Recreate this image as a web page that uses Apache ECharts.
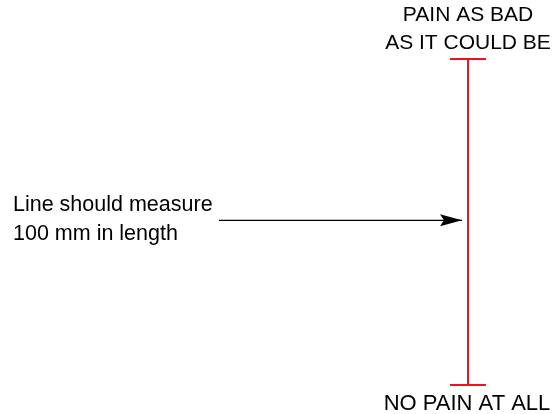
<!DOCTYPE html>
<html>
<head>
<meta charset="utf-8">
<script src="https://cdn.jsdelivr.net/npm/echarts@6/dist/echarts.min.js"></script>
<style>
  html, body { margin: 0; padding: 0; background: #fff; }
  #chart { width: 555px; height: 414px; }
</style>
</head>
<body>
<div id="chart"></div>
<script>
// scale ends, in mm along the line
const scaleEnds = [0, 100];
const endLabels = ['NO PAIN AT ALL', 'PAIN AS BAD\nAS IT COULD BE'];
// where the arrow meets the line (mm)
const arrowLevel = 50.5;
const noteText = 'Line should measure\n100 mm in length';

// layout (x axis runs in pixels across the page)
const scaleX = 468;
const arrowFromX = 219;
const arrowToX = 462;
const noteX = 13;

const red = '#e8141f';
const ink = '#000';
const font = '"Liberation Sans", Arial, Helvetica, sans-serif';

const chart = echarts.init(document.getElementById('chart'));

chart.setOption({
  animation: false,
  grid: { left: 0, right: 0, top: 59, bottom: 29 },
  xAxis: { type: 'value', min: 0, max: 555, show: false },
  yAxis: { type: 'value', min: 0, max: 100, show: false },
  series: [
    {
      // the 100 mm scale with end caps
      type: 'line',
      data: scaleEnds.map((v, i) => ({
        value: [scaleX, v],
        label: {
          show: true,
          position: i === 0 ? 'bottom' : 'top',
          distance: i === 0 ? 6 : 1,
          offset: i === 0 ? [-1, 0] : [0, 0],
          formatter: endLabels[i],
          fontFamily: font,
          fontSize: i === 0 ? 22 : 21,
          lineHeight: i === 0 ? 24 : 28,
          color: ink
        }
      })),
      symbol: 'rect',
      symbolSize: [36, 2],
      itemStyle: { color: red },
      lineStyle: { color: red, width: 2 },
      silent: true
    },
    {
      // pointer arrow
      type: 'line',
      data: [
        { value: [arrowFromX, arrowLevel], symbol: 'none' },
        {
          value: [arrowToX, arrowLevel],
          symbol: 'path://M0,0 L22,6 L0,12 L4,6 Z',
          symbolSize: [22, 12],
          symbolOffset: ['-50%', 0]
        }
      ],
      itemStyle: { color: ink },
      lineStyle: { color: ink, width: 1.4 },
      silent: true
    },
    {
      // note text
      type: 'scatter',
      data: [[noteX, arrowLevel]],
      symbolSize: 0,
      itemStyle: { opacity: 1 },
      label: {
        show: true,
        position: 'right',
        distance: 0,
        offset: [0, -1],
        formatter: noteText,
        fontFamily: font,
        fontSize: 21.5,
        lineHeight: 29,
        color: ink
      },
      silent: true
    }
  ]
});
</script>
</body>
</html>
